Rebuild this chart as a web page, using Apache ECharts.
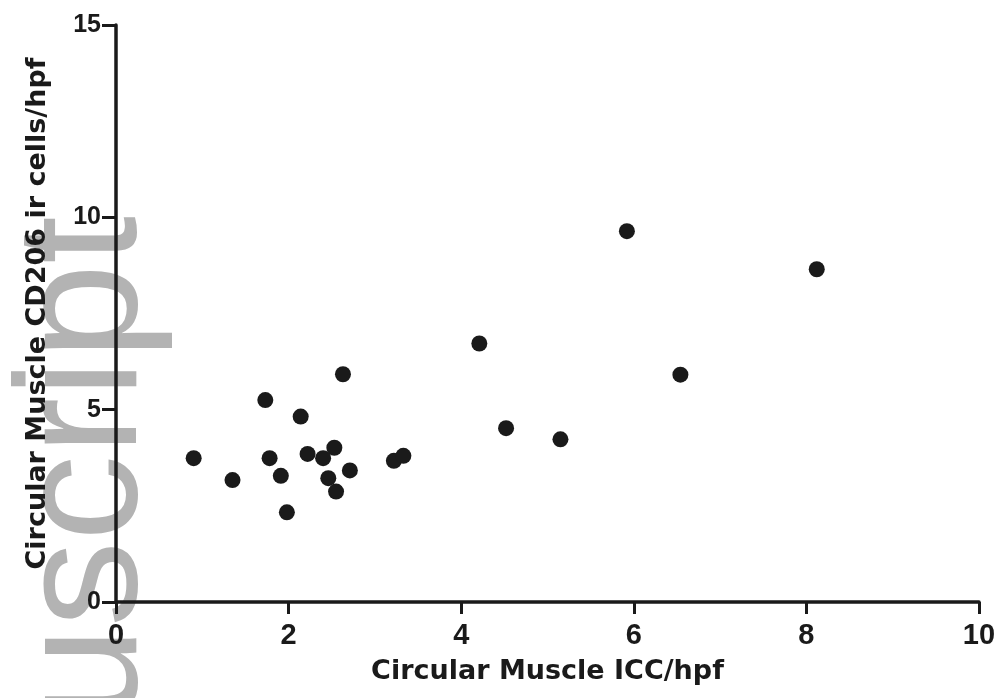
<!DOCTYPE html>
<html>
<head>
<meta charset="utf-8">
<script src="https://cdn.jsdelivr.net/npm/echarts@6/dist/echarts.min.js"></script>
<style>
html,body{margin:0;padding:0;background:#fff;}
#chart{width:1001px;height:698px;}
</style>
</head>
<body>
<div id="chart"></div>
<script>
// Data
var xValues = [0.90, 1.35, 1.73, 1.78, 1.91, 1.98, 2.14, 2.22, 2.40, 2.46, 2.53, 2.55, 2.63, 2.71, 3.22, 3.33, 4.21, 4.52, 5.15, 5.92, 6.54, 8.12];
var yValues = [3.74, 3.17, 5.25, 3.74, 3.28, 2.33, 4.82, 3.85, 3.74, 3.22, 4.01, 2.87, 5.92, 3.42, 3.67, 3.80, 6.72, 4.52, 4.23, 9.64, 5.91, 8.65];
var xTicks = [0, 2, 4, 6, 8, 10];
var yTicks = [0, 5, 10, 15];
var xTitle = 'Circular Muscle ICC/hpf';
var yTitle = 'Circular Muscle CD206 ir cells/hpf';
var watermark = 'uscript';

var points = xValues.map(function (x, i) { return [x, yValues[i]]; });

var chart = echarts.init(document.getElementById('chart'), null, {renderer: 'canvas'});
var axisColor = '#1a1a1a';
chart.setOption({
  animation: false,
  backgroundColor: '#ffffff',
  grid: {left: 116, right: 22, top: 25, bottom: 96, containLabel: false},
  graphic: [{
    type: 'text',
    z: -10,
    x: 89,
    y: 216,
    rotation: Math.PI / 2,
    style: {
      text: watermark,
      fill: '#b3b3b3',
      font: '172px "Liberation Sans", Arial, sans-serif',
      textAlign: 'right',
      textVerticalAlign: 'middle'
    }
  }],
  xAxis: {
    type: 'value',
    min: xTicks[0],
    max: xTicks[xTicks.length - 1],
    interval: 2,
    name: xTitle,
    nameLocation: 'middle',
    nameGap: 56,
    nameTextStyle: {fontFamily: '"DejaVu Sans", sans-serif', fontWeight: 'bold', fontSize: 27, color: axisColor},
    axisLine: {show: true, onZero: false, lineStyle: {color: axisColor, width: 3.5}},
    axisTick: {show: true, inside: false, length: 12, lineStyle: {color: axisColor, width: 3}},
    axisLabel: {margin: 19, fontFamily: '"Liberation Sans", Arial, sans-serif', fontWeight: 'bold', fontSize: 29, color: axisColor},
    splitLine: {show: false}
  },
  yAxis: {
    type: 'value',
    min: yTicks[0],
    max: yTicks[yTicks.length - 1],
    interval: 5,
    name: yTitle,
    nameLocation: 'middle',
    nameGap: 65,
    nameTextStyle: {fontFamily: '"DejaVu Sans", sans-serif', fontWeight: 'bold', fontSize: 27, color: axisColor},
    axisLine: {show: true, onZero: false, lineStyle: {color: axisColor, width: 3.5}},
    axisTick: {show: true, inside: false, length: 14, lineStyle: {color: axisColor, width: 3}},
    axisLabel: {margin: 15, fontFamily: '"Liberation Sans", Arial, sans-serif', fontWeight: 'bold', fontSize: 25, color: axisColor},
    splitLine: {show: false}
  },
  series: [{
    type: 'scatter',
    data: points,
    symbol: 'circle',
    symbolSize: 16,
    itemStyle: {color: '#1a1a1a', opacity: 1},
    z: 5
  }]
});
</script>
</body>
</html>
